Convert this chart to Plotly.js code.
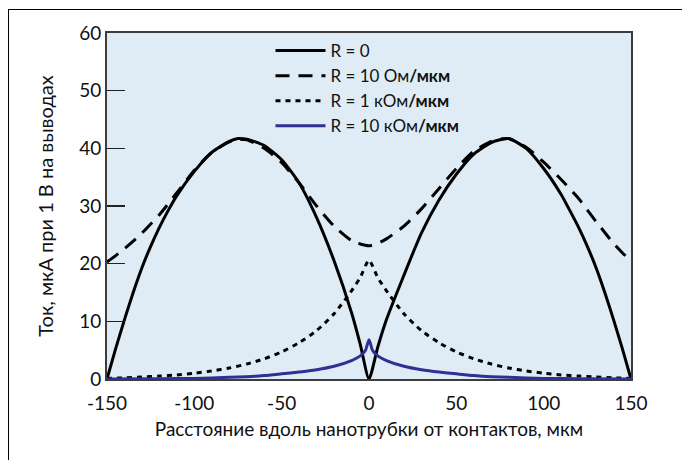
<!DOCTYPE html>
<html>
<head>
<meta charset="utf-8">
<script src="https://cdn.plot.ly/plotly-3.0.1.min.js"></script>
<style>
  html, body { margin: 0; padding: 0; background: #ffffff; }
  #wrap { position: relative; width: 682px; height: 460px; }
  #chart { position: absolute; left: 0; top: 0; width: 682px; height: 460px; }
  #frame { position: absolute; left: 8px; top: 9px; width: 674px; height: 451px;
           border-left: 1px solid #000; border-top: 1px solid #000; box-sizing: border-box; pointer-events: none; }
</style>
</head>
<body>
<div id="wrap">
  <div id="chart"></div>
  <div id="frame"></div>
</div>
<script>
// Distance along the nanotube from the contacts, um
const xSolid = [-150,-145,-140,-135,-130,-125,-120,-115,-110,-100,-90,-80,-75,-70,-60,-50,-40,-30,-20,-10,-5,0,
                 5,10,20,30,40,50,60,70,75,80,90,100,110,115,120,125,130,135,140,145,150];
const ySolid = [0,5.3,10.3,15,19.3,23,26.3,29.2,31.8,36,39.3,41.2,41.7,41.6,40.5,38,34,28,20.5,11.5,6,0,
                5.5,10.3,18,25.3,31,35.5,39,41,41.5,41.7,40,36.5,32,29.2,26.3,23,19.3,15,10.3,5.3,0];

const xDash = [-150,-145,-140,-135,-130,-120,-110,-100,-90,-80,-75,-70,-60,-50,-40,-30,-20,-10,-5,0,
                5,10,20,30,40,50,60,70,75,80,90,100,110,120,130,135,140,145,150];
const yDash = [20.3,21.4,22.6,23.9,25.3,28.5,32.3,36.2,39.3,41.1,41.5,41.5,40,37.5,34,30,26.5,24,23.4,23.1,
               23.5,24.3,26.5,29.5,33,36.5,39.5,41.2,41.6,41.7,40.2,37.6,34.6,31.3,27.3,25.4,23.5,21.9,20.5];

const xDot = [-150,-140,-130,-120,-110,-100,-90,-80,-70,-60,-50,-40,-30,-20,-10,-5,0,
               5,10,20,30,40,50,60,70,80,90,100,110,120,130,140,150];
const yDot = [0.1,0.2,0.35,0.5,0.7,1.0,1.4,1.9,2.6,3.5,4.7,6.3,8.4,11.3,15.3,17.6,20.6,
              17.6,15.3,11.3,8.4,6.3,4.7,3.5,2.6,1.9,1.4,1.0,0.7,0.5,0.35,0.2,0.1];

const xBlue = [-150,-120,-100,-80,-70,-60,-50,-40,-30,-20,-10,-5,-2,0,
                2,5,10,20,30,40,50,60,70,80,100,120,150];
const yBlue = [0,0.05,0.1,0.3,0.4,0.6,0.9,1.2,1.6,2.2,3.2,4.0,5.0,6.8,
               5.0,4.0,3.2,2.2,1.6,1.2,0.9,0.6,0.4,0.3,0.1,0.05,0];

const seriesNames = ['R = 0', 'R = 10 Ом<b>/мкм</b>', 'R = 1 кОм<b>/мкм</b>', 'R = 10 кОм<b>/мкм</b>'];
const xTicks = [-150,-100,-50,0,50,100,150];
const yTicks = [0,10,20,30,40,50,60];

const FONT = 'Lato, "Open Sans", sans-serif';

const traces = [
  {x: xSolid, y: ySolid, name: seriesNames[0], mode: 'lines', line: {color: '#000000', width: 3, shape: 'spline', smoothing: 0.6}},
  {x: xDash, y: yDash, name: seriesNames[1], mode: 'lines', line: {color: '#000000', width: 3, dash: '14px,9px', shape: 'spline', smoothing: 0.6}},
  {x: xDot, y: yDot, name: seriesNames[2], mode: 'lines', line: {color: '#000000', width: 3, dash: '5px,5px', shape: 'spline', smoothing: 0.6}},
  {x: xBlue, y: yBlue, name: seriesNames[3], mode: 'lines', line: {color: '#2e3192', width: 3, shape: 'spline', smoothing: 0.6}}
];

const layout = {
  width: 682, height: 460,
  margin: {l: 107, r: 51, t: 33, b: 81},
  paper_bgcolor: '#ffffff',
  plot_bgcolor: '#dfecf5',
  font: {family: FONT, color: '#111111', size: 19},
  showlegend: true,
  legend: {x: 0.312, y: 1.0, xanchor: 'left', yanchor: 'top', bgcolor: 'rgba(0,0,0,0)',
           itemwidth: 50,
           font: {family: FONT, size: 17, color: '#111111'}, tracegroupgap: 0},
  xaxis: {
    range: [-150, 150], tickvals: xTicks, ticktext: xTicks.map(String),
    showgrid: false, zeroline: false, showline: true, mirror: true, linecolor: '#3c3c3c', linewidth: 2,
    ticks: '', ticklabelstandoff: 6,
    tickfont: {family: FONT, size: 19, color: '#111111'},
    title: {text: 'Расстояние вдоль нанотрубки от контактов, мкм', font: {family: FONT, size: 19, color: '#111111'}, standoff: 10}
  },
  yaxis: {
    range: [0, 60], tickvals: yTicks, ticktext: yTicks.map(String),
    showgrid: false, zeroline: false, showline: true, mirror: true, linecolor: '#3c3c3c', linewidth: 2,
    ticks: 'inside', ticklen: 18, tickwidth: 1.5, tickcolor: '#222222',
    tickfont: {family: FONT, size: 19, color: '#111111'},
    title: {text: 'Ток, мкА при 1 В на выводах', font: {family: FONT, size: 20, color: '#111111'}, standoff: 20}
  }
};

Plotly.newPlot('chart', traces, layout, {staticPlot: true, displayModeBar: false});
</script>
</body>
</html>
